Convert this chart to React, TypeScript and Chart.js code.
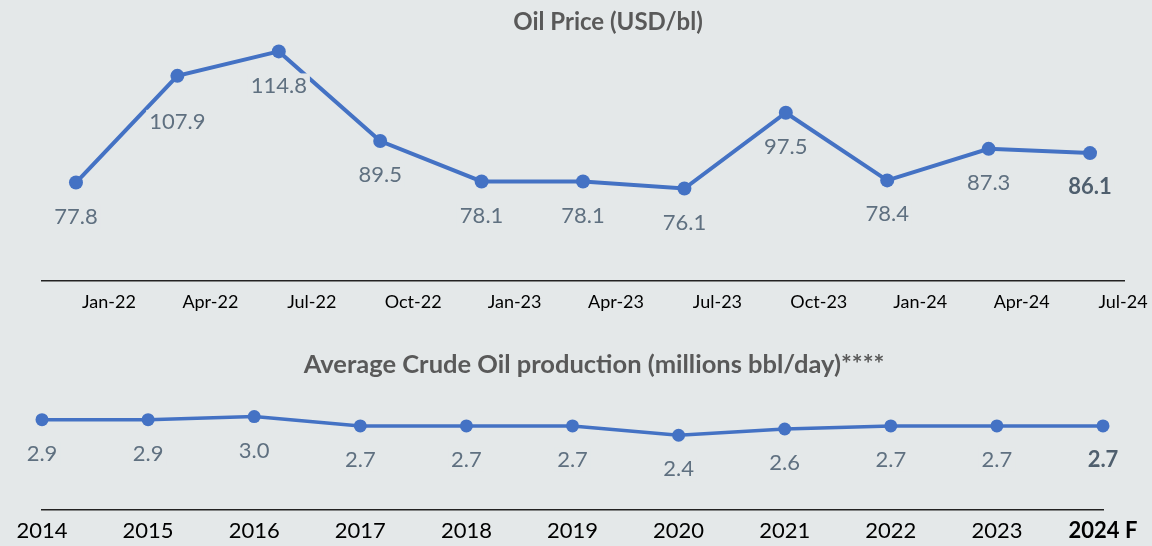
import React, { useEffect, useRef } from "react";
import { Chart, registerables } from "chart.js";
Chart.register(...registerables);

const priceLabels = ["Jan-22", "Apr-22", "Jul-22", "Oct-22", "Jan-23", "Apr-23", "Jul-23", "Oct-23", "Jan-24", "Apr-24", "Jul-24"];
const priceValues = [77.8, 107.9, 114.8, 89.5, 78.1, 78.1, 76.1, 97.5, 78.4, 87.3, 86.1];
const prodYears = ["2014", "2015", "2016", "2017", "2018", "2019", "2020", "2021", "2022", "2023", "2024 F"];
const prodValues = [2.9, 2.9, 3.0, 2.7, 2.7, 2.7, 2.4, 2.6, 2.7, 2.7, 2.7];

const BG = "#E4E8E9";
const LINE = "#4472C4";
const LABEL = "#5F7080";
const FONT = "Lato, 'Open Sans', sans-serif";

function makeLabelPlugin(id: string, title: string, titleSize: number, titleX: number, titleY: number, dy: number, size: number, extra: Record<number, number>) {
  return {
    id,
    afterDatasetsDraw(chart: any) {
      const ctx = chart.ctx;
      const meta = chart.getDatasetMeta(0);
      const data = chart.data.datasets[0].data as any[];
      const n = meta.data.length;
      ctx.save();
      ctx.textAlign = "center";
      ctx.textBaseline = "middle";
      meta.data.forEach((pt: any, i: number) => {
        const raw = data[i];
        const v = typeof raw === "number" ? raw : raw.y;
        const txt = v.toFixed(1);
        const last = i === n - 1;
        ctx.font = `${last ? "bold " : ""}${size}px ${FONT}`;
        const w = ctx.measureText(txt).width;
        const x = pt.x;
        const y = pt.y + dy + (extra[i] || 0);
        ctx.fillStyle = BG;
        ctx.fillRect(x - w / 2 - 3, y - size / 2 - 1, w + 6, size + 2);
        ctx.fillStyle = last ? "#4F5F6E" : LABEL;
        ctx.fillText(txt, x, y);
      });
      ctx.restore();
    },
    afterDraw(chart: any) {
      const ctx = chart.ctx;
      ctx.save();
      ctx.font = `bold ${titleSize}px ${FONT}`;
      ctx.fillStyle = "#595959";
      ctx.textAlign = "center";
      ctx.textBaseline = "middle";
      ctx.fillText(title, titleX, titleY);
      ctx.restore();
    },
  };
}

function PriceChart() {
  const ref = useRef<HTMLCanvasElement>(null);
  useEffect(() => {
    const chart = new Chart(ref.current!, {
      type: "line",
      data: {
        datasets: [
          {
            data: priceValues.map((v, i) => ({ x: i, y: v })),
            borderColor: LINE,
            backgroundColor: LINE,
            borderWidth: 4,
            pointRadius: 7,
            pointHoverRadius: 7,
            pointBackgroundColor: LINE,
            pointBorderWidth: 0,
            tension: 0,
            clip: false as any,
          },
        ],
      },
      options: {
        animation: false,
        responsive: false,
        events: [],
        layout: { padding: { left: 42, right: 28, top: 33, bottom: 0 } },
        plugins: { legend: { display: false }, tooltip: { enabled: false }, title: { display: false } },
        scales: {
          x: {
            type: "linear",
            min: -0.335,
            max: 10.335,
            afterBuildTicks: (s: any) => {
              s.ticks = priceLabels.map((_, i) => ({ value: i }));
            },
            afterFit: (s: any) => {
              s.height = 39;
            },
            ticks: {
              callback: (v: any) => priceLabels[v] ?? "",
              labelOffset: 33,
              autoSkip: false,
              maxRotation: 0,
              minRotation: 0,
              padding: 10,
              color: "#000",
              font: { family: FONT, size: 18 },
            },
            grid: { display: false, drawTicks: false },
            border: { display: true, color: "#222", width: 1.5 },
          },
          y: { display: false, min: 50, max: 120 },
        },
      },
      plugins: [makeLabelPlugin("priceLabels", "Oil Price (USD/bl)", 24, 608, 22, 34, 22, { 1: 12 })],
    });
    return () => chart.destroy();
  }, []);
  return <canvas ref={ref} width={1152} height={320} style={{ position: "absolute", left: 0, top: 0, width: 1152, height: 320 }} />;
}

function ProdChart() {
  const ref = useRef<HTMLCanvasElement>(null);
  useEffect(() => {
    const chart = new Chart(ref.current!, {
      type: "line",
      data: {
        labels: prodYears,
        datasets: [
          {
            data: prodValues,
            borderColor: LINE,
            backgroundColor: LINE,
            borderWidth: 3.5,
            pointRadius: 6.5,
            pointHoverRadius: 6.5,
            pointBackgroundColor: LINE,
            pointBorderWidth: 0,
            tension: 0,
            clip: false as any,
          },
        ],
      },
      options: {
        animation: false,
        responsive: false,
        events: [],
        layout: { padding: { left: 42, right: 49, top: 61, bottom: 0 } },
        plugins: { legend: { display: false }, tooltip: { enabled: false }, title: { display: false } },
        scales: {
          x: {
            type: "category",
            offset: false,
            afterFit: (s: any) => {
              s.height = 36;
            },
            ticks: {
              autoSkip: false,
              maxRotation: 0,
              minRotation: 0,
              padding: 8,
              color: "#000",
              font: (c: any) => ({ family: FONT, size: 22, weight: c.index === prodYears.length - 1 ? "bold" : "normal" }),
            },
            grid: { display: false, drawTicks: false },
            border: { display: true, color: "#222", width: 1.5 },
          },
          y: { display: false, min: 0, max: 3.5 },
        },
      },
      plugins: [makeLabelPlugin("prodLabels", "Average Crude Oil production (millions bbl/day)****", 25.5, 594, 25, 34, 22, {})],
    });
    return () => chart.destroy();
  }, []);
  return <canvas ref={ref} width={1152} height={206} style={{ position: "absolute", left: 0, top: 340, width: 1152, height: 206 }} />;
}

export default function App() {
  return (
    <div style={{ position: "absolute", left: 0, top: 0, width: 1152, height: 546, background: BG, overflow: "hidden" }}>
      <PriceChart />
      <ProdChart />
    </div>
  );
}
